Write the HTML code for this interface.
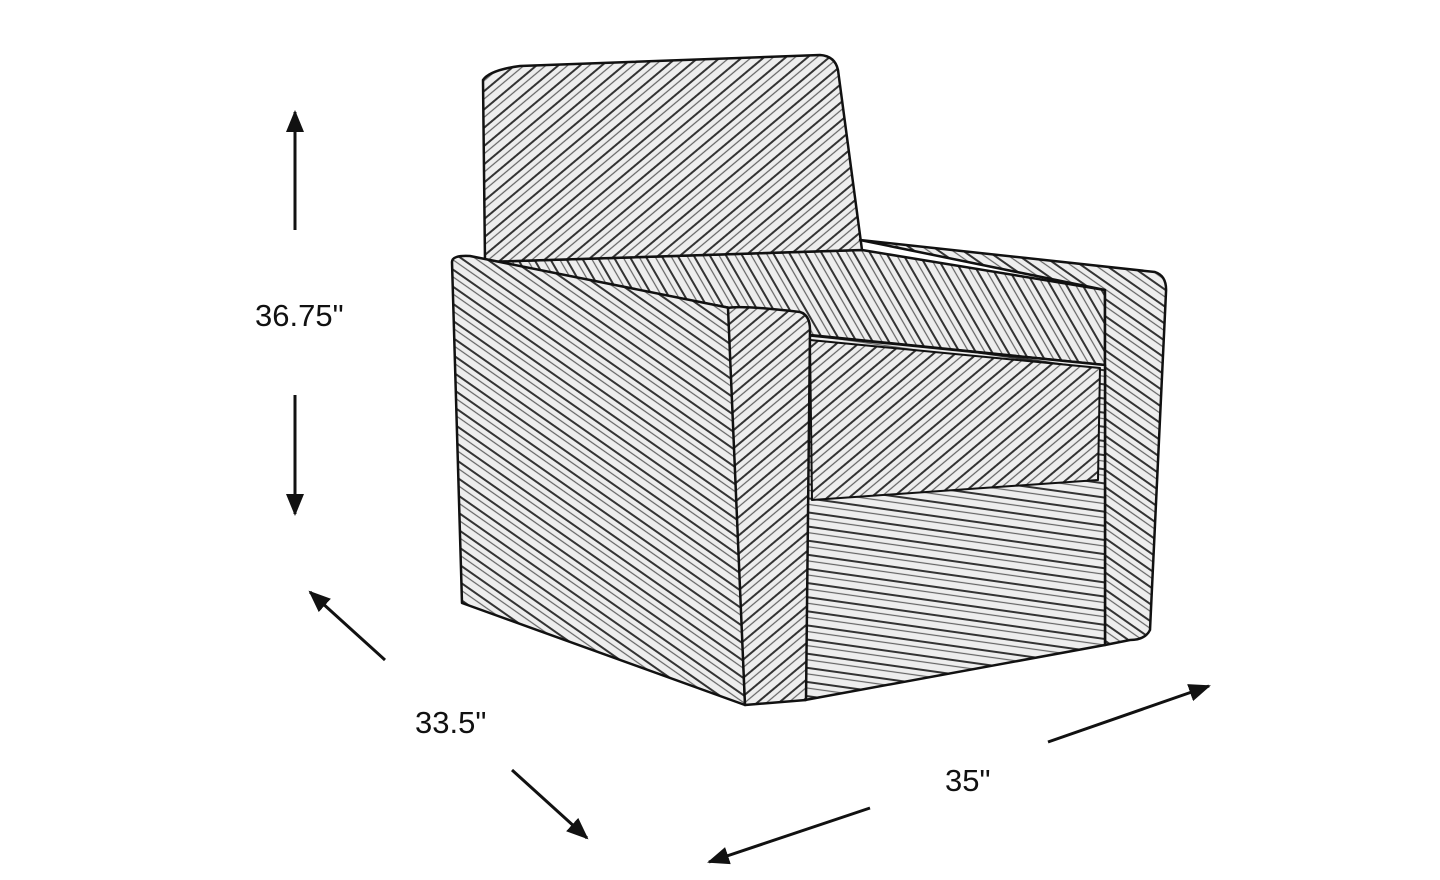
<!DOCTYPE html>
<html><head><meta charset="utf-8"><style>
html,body{margin:0;padding:0;background:#fff;}
svg{display:block}
text{font-family:"Liberation Sans",sans-serif;font-size:31px;fill:#111}
</style></head><body>
<svg width="1440" height="880" viewBox="0 0 1440 880">
<defs>
<pattern id="h1" width="14" height="14" patternUnits="userSpaceOnUse" patternTransform="rotate(35)">
<rect width="14" height="14" fill="#eee"/><line x1="0" y1="3" x2="14" y2="3" stroke="#333" stroke-width="2"/><line x1="0" y1="9" x2="14" y2="9" stroke="#666" stroke-width="1.2"/></pattern>
<pattern id="h2" width="14" height="14" patternUnits="userSpaceOnUse" patternTransform="rotate(-40)">
<rect width="14" height="14" fill="#eee"/><line x1="0" y1="3" x2="14" y2="3" stroke="#333" stroke-width="2"/><line x1="0" y1="9" x2="14" y2="9" stroke="#666" stroke-width="1.2"/></pattern>
<pattern id="h3" width="14" height="14" patternUnits="userSpaceOnUse" patternTransform="rotate(8)">
<rect width="14" height="14" fill="#eee"/><line x1="0" y1="3" x2="14" y2="3" stroke="#333" stroke-width="2"/><line x1="0" y1="9" x2="14" y2="9" stroke="#666" stroke-width="1.2"/></pattern>
<pattern id="h4" width="14" height="14" patternUnits="userSpaceOnUse" patternTransform="rotate(60)">
<rect width="14" height="14" fill="#eee"/><line x1="0" y1="3" x2="14" y2="3" stroke="#333" stroke-width="2"/><line x1="0" y1="9" x2="14" y2="9" stroke="#666" stroke-width="1.2"/></pattern>
<marker id="a" markerWidth="22" markerHeight="18" refX="20" refY="9" orient="auto" markerUnits="userSpaceOnUse" viewBox="0 0 22 18"><path d="M0,0 L22,9 L0,18 z" fill="#111"/></marker>
</defs>
<g stroke="#111" stroke-width="2.5" stroke-linejoin="round">
<path d="M485,262 L862,250 L1105,290 L1105,365 L810,335 L730,308 Z" fill="url(#h4)"/>
<path d="M483,80 Q490,70 520,66 L820,55 Q835,56 838,70 L862,250 L485,262 Z" fill="url(#h2)"/>
<path d="M860,240 L1155,272 Q1167,276 1166,292 L1150,630 Q1145,640 1130,640 L1105,645 L1105,290 Z" fill="url(#h1)"/>
<path d="M805,335 L1105,365 L1105,645 L805,700 Z" fill="url(#h3)"/>
<path d="M810,340 L1100,368 L1098,480 L812,500 Z" fill="url(#h2)" stroke-width="2"/>
<path d="M452,262 Q452,255 470,256 L730,308 L745,705 L462,603 Z" fill="url(#h1)"/>
<path d="M728,308 Q740,305 800,312 Q810,315 810,330 L806,700 L745,705 Z" fill="url(#h2)"/>
</g>
<g stroke="#111" stroke-width="3" fill="none">
<line x1="295" y1="230" x2="295" y2="112" marker-end="url(#a)"/>
<line x1="295" y1="395" x2="295" y2="514" marker-end="url(#a)"/>
<line x1="385" y1="660" x2="310" y2="592" marker-end="url(#a)"/>
<line x1="512" y1="770" x2="587" y2="838" marker-end="url(#a)"/>
<line x1="1048" y1="742" x2="1209" y2="686" marker-end="url(#a)"/>
<line x1="870" y1="808" x2="709" y2="862" marker-end="url(#a)"/>
</g>
<text x="255" y="326">36.75"</text>
<text x="415" y="733">33.5"</text>
<text x="945" y="791">35"</text>
</svg>
</body></html>
